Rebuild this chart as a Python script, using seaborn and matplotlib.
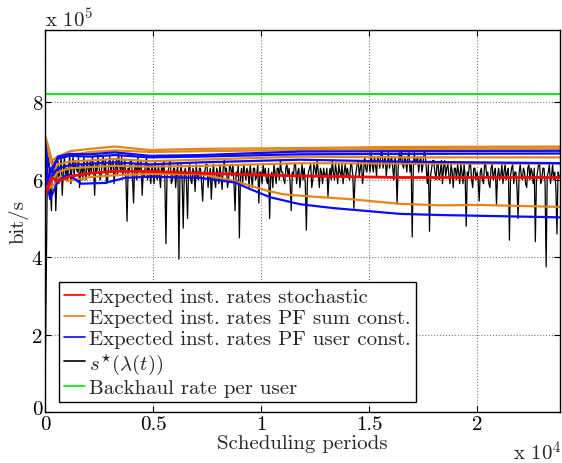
import matplotlib
matplotlib.use('Agg')
import matplotlib.pyplot as plt
from matplotlib.lines import Line2D
from matplotlib.transforms import ScaledTranslation
import seaborn as sns
import numpy as np

# ---- data (x in scheduling periods, rates in units of 1e5 bit/s) ----
t_knots = [0, 140, 320, 600, 1160, 2080, 3240, 4860, 7180, 11800, 16440, 23840]

orange_top_e5 = [7.15, 6.9, 6.5, 6.6, 6.74, 6.8, 6.86, 6.77, 6.8, 6.82, 6.85, 6.86]
orange_2nd_e5 = [7.05, 6.7, 6.4, 6.55, 6.64, 6.72, 6.76, 6.72, 6.74, 6.77, 6.8, 6.81]
orange_mid_e5 = [6.8, 5.9, 6.2, 6.4, 6.47, 6.5, 6.54, 6.48, 6.52, 6.6, 6.58, 6.58]
orange_low_e5 = [6.6, 5.7, 6.0, 6.2, 6.3, 6.33, 6.36, 6.34, 6.36, 6.43, 6.42, 6.42]
blue_top_e5 = [7.0, 6.4, 6.2, 6.6, 6.67, 6.66, 6.71, 6.62, 6.64, 6.73, 6.74, 6.75]
blue_2nd_e5 = [6.9, 6.0, 6.3, 6.55, 6.62, 6.6, 6.64, 6.58, 6.6, 6.66, 6.67, 6.68]
blue_mid_e5 = [6.7, 5.8, 6.1, 6.3, 6.38, 6.42, 6.45, 6.4, 6.45, 6.52, 6.47, 6.43]
red_e5 = [5.6, 5.8, 6.05, 5.96, 6.09, 6.17, 6.22, 6.22, 6.17, 6.1, 6.06, 6.06]

orange_dec_t = [0, 140, 240, 500, 720, 1030, 1390, 2080, 3240, 4860, 7180, 8700,
                9500, 10270, 11000, 11800, 14120, 16440, 18300, 20140, 23840]
orange_dec_e5 = [7.0, 6.2, 5.8, 5.9, 6.1, 5.97, 6.0, 6.07, 6.12, 6.15, 6.15, 5.98,
                 5.85, 5.72, 5.63, 5.59, 5.5, 5.38, 5.34, 5.35, 5.3]
blue_dec_t = [0, 140, 240, 600, 1060, 1670, 2780, 3700, 4860, 7180, 8800, 9500,
              10420, 11800, 13330, 16440, 18300, 23840]
blue_dec_e5 = [6.9, 5.8, 5.5, 5.97, 6.15, 5.9, 5.92, 6.05, 6.08, 6.05, 5.93, 5.76,
               5.55, 5.37, 5.27, 5.12, 5.09, 5.03]

backhaul_e5 = 8.22

# s*(lambda(t)), one sample every 50 periods (20 per row = 1000 periods)
s_star_e5 = [
    0.1, 3.0, 5.6, 6.6, 6.4, 5.8, 5.2, 6.5, 6.1, 6.4, 5.2, 6.0, 6.5, 5.9, 6.3, 6.6, 5.6, 6.2, 6.6, 6.1,
    6.3, 6.0, 6.4, 6.6, 5.9, 6.3, 6.6, 6.1, 6.5, 6.3, 6.2, 6.6, 5.8, 6.2, 6.4, 6.0, 6.6, 6.2, 6.0, 6.5,
    6.3, 6.1, 6.5, 6.2, 6.6, 6.3, 5.6, 6.4, 6.2, 6.6, 6.4, 6.0, 6.1, 6.5, 6.6, 6.2, 6.5, 5.9, 6.0, 6.4,
    6.6, 6.2, 6.4, 6.5, 5.9, 6.3, 6.5, 6.1, 6.7, 6.4, 6.2, 6.6, 6.1, 6.3, 6.5, 6.0, 4.93, 6.3, 6.2, 6.5,
    6.5, 6.1, 5.4, 6.3, 6.4, 6.0, 6.6, 6.2, 6.3, 6.5, 5.6, 6.2, 6.1, 6.4, 6.6, 6.0, 6.4, 6.2, 5.9, 6.4,
    6.2, 5.9, 6.5, 6.1, 6.0, 6.4, 6.1, 5.8, 6.4, 6.2, 6.5, 6.0, 4.35, 6.1, 6.2, 6.4, 6.5, 5.9, 6.0, 6.3,
    6.3, 5.8, 6.2, 6.4, 3.95, 6.1, 6.4, 6.0, 4.75, 6.2, 6.3, 5.9, 5.0, 6.3, 6.4, 6.0, 5.9, 6.3, 6.2, 5.7,
    6.4, 6.1, 6.0, 6.3, 6.3, 5.9, 5.45, 6.2, 6.2, 6.4, 6.4, 5.8, 6.1, 6.3, 5.5, 6.1, 6.4, 6.0, 5.8, 6.3,
    6.2, 5.9, 6.4, 6.1, 5.75, 6.3, 6.5, 6.2, 6.3, 5.8, 6.0, 6.4, 6.3, 6.1, 6.4, 5.9, 5.2, 6.2, 6.1, 6.4,
    4.5, 6.1, 6.3, 5.9, 6.4, 6.2, 6.0, 6.3, 6.2, 5.8, 6.4, 6.1, 5.8, 6.3, 6.3, 6.0, 6.1, 6.4, 5.4, 6.2,
    6.2, 5.9, 6.4, 6.1, 6.3, 6.0, 5.9, 6.3, 5.0, 6.1, 6.2, 5.8, 6.4, 6.2, 5.9, 6.3, 6.3, 6.0, 6.5, 6.2,
    6.2, 6.0, 5.9, 6.3, 6.4, 6.1, 6.3, 5.9, 5.2, 6.2, 6.1, 6.4, 6.4, 5.9, 6.2, 6.3, 5.8, 6.1, 6.4, 6.0,
    6.3, 5.9, 4.7, 6.0, 6.2, 6.3, 6.4, 5.8, 6.0, 6.4, 6.3, 6.1, 6.5, 6.2, 5.8, 6.3, 6.2, 5.9, 6.3, 6.1,
    6.1, 6.3, 5.57, 6.1, 6.3, 6.0, 6.5, 6.2, 6.0, 6.4, 6.2, 5.9, 6.4, 6.2, 6.1, 6.4, 5.9, 6.2, 6.4, 6.1,
    6.3, 6.1, 6.0, 6.4, 6.4, 6.1, 5.26, 6.0, 6.2, 6.4, 6.5, 6.1, 6.3, 6.5, 5.9, 6.2, 6.6, 6.3, 6.2, 6.5,
    6.5, 6.2, 6.7, 6.4, 6.2, 6.6, 6.4, 6.1, 6.6, 6.5, 6.3, 6.7, 6.8, 6.3, 6.5, 6.6, 6.1, 6.4, 6.7, 6.3,
    6.5, 6.6, 6.3, 6.0, 6.6, 6.4, 5.37, 6.3, 6.7, 6.5, 6.8, 6.4, 6.3, 6.6, 6.5, 6.2, 6.6, 6.7, 6.2, 6.4,
    4.52, 6.3, 6.7, 6.4, 6.5, 6.6, 6.2, 6.5, 6.6, 6.2, 6.4, 6.7, 6.7, 6.3, 5.9, 6.4, 4.67, 6.1, 6.3, 6.5,
    6.5, 6.2, 6.0, 6.4, 6.4, 6.0, 6.2, 6.5, 5.9, 6.3, 6.5, 6.1, 6.3, 6.4, 6.1, 5.9, 6.4, 6.2, 5.8, 6.3,
    6.3, 6.0, 6.4, 6.2, 5.9, 6.4, 6.2, 5.9, 6.4, 6.1, 4.8, 6.2, 6.1, 6.4, 6.4, 6.0, 5.8, 6.3, 6.3, 6.0,
    6.2, 6.0, 5.45, 6.2, 6.3, 6.0, 5.9, 6.4, 6.4, 6.1, 6.2, 5.9, 5.8, 6.3, 6.4, 6.0, 6.2, 6.3, 5.35, 6.1,
    6.3, 6.0, 6.1, 6.4, 5.9, 6.2, 6.4, 6.0, 6.2, 6.3, 4.44, 6.1, 6.3, 6.4, 5.9, 6.2, 6.2, 5.8, 5.0, 6.2,
    6.4, 6.1, 6.0, 6.3, 6.2, 5.9, 5.8, 6.3, 6.4, 6.0, 6.3, 6.2, 5.9, 6.3, 4.4, 6.0, 6.2, 6.4, 6.4, 5.9,
    6.0, 6.3, 6.3, 5.9, 3.75, 6.1, 6.2, 6.4, 5.9, 6.1, 6.4, 6.0, 6.2, 5.8, 4.6, 6.2, 6.1,
]
s_star_t = np.arange(len(s_star_e5)) * 50

x_ticks = [0, 5000, 10000, 15000, 20000]
x_ticklabels = ['0', '0.5', '1', '1.5', '2']
y_ticks_e5 = [0, 2, 4, 6, 8]

RED = '#ff0000'
ORANGE = '#e0861a'
BLUE = '#0a0aff'
GREEN = '#00e600'
FS = 15

sns.set_style("white")
plt.rcParams['font.family'] = 'cmr10'
plt.rcParams['mathtext.fontset'] = 'cm'
plt.rcParams['axes.unicode_minus'] = False

fig = plt.figure(figsize=(5.62, 4.64), dpi=100)
ax = fig.add_axes([0.080, 0.110, 0.9164, 0.823])

e5 = 1e5
sns.lineplot(x=s_star_t, y=np.array(s_star_e5) * e5, ax=ax, color='black',
             linewidth=0.9, estimator=None, sort=False)

for vals in [orange_top_e5, orange_2nd_e5, orange_mid_e5, orange_low_e5]:
    sns.lineplot(x=t_knots, y=np.array(vals) * e5, ax=ax, color=ORANGE,
                 linewidth=1.6, estimator=None, sort=False)
sns.lineplot(x=orange_dec_t, y=np.array(orange_dec_e5) * e5, ax=ax, color=ORANGE,
             linewidth=1.6, estimator=None, sort=False)
for vals in [blue_top_e5, blue_2nd_e5, blue_mid_e5]:
    sns.lineplot(x=t_knots, y=np.array(vals) * e5, ax=ax, color=BLUE,
                 linewidth=1.6, estimator=None, sort=False)
sns.lineplot(x=blue_dec_t, y=np.array(blue_dec_e5) * e5, ax=ax, color=BLUE,
             linewidth=1.6, estimator=None, sort=False)
sns.lineplot(x=t_knots, y=np.array(red_e5) * e5, ax=ax, color=RED,
             linewidth=2.0, estimator=None, sort=False)
ax.axhline(backhaul_e5 * e5, color=GREEN, linewidth=1.3)

ax.set_xlim(0, 23840)
ax.set_ylim(0, 9.87e5)
ax.set_xticks(x_ticks)
ax.set_xticklabels(x_ticklabels)
ax.set_yticks([v * e5 for v in y_ticks_e5])
ax.set_yticklabels([str(v) for v in y_ticks_e5])
ax.tick_params(axis='both', direction='in', length=4, width=0.8, labelsize=FS,
               bottom=True, left=True, top=True, right=True, colors='black', pad=2)
ax.grid(True, linestyle=':', color='#7a7a7a', linewidth=0.8)
ax.set_axisbelow(True)
for sp in ax.spines.values():
    sp.set_color('black')
    sp.set_linewidth(1.0)

# nudge the y "0" up a little so it clears the x "0"
ylab0 = ax.get_yticklabels()[0]
ylab0.set_transform(ylab0.get_transform() + ScaledTranslation(0, 5 / 100, fig.dpi_scale_trans))

ax.set_xlabel('Scheduling periods', fontsize=FS, labelpad=1)
ax.set_ylabel('bit/s', fontsize=FS, labelpad=2)

fig.text(45 / 562, 1 - 27 / 464, r'x 10$^{5}$', fontsize=FS, va='baseline', ha='left')
fig.text(513 / 562, 1 - 461 / 464, r'x 10$^{4}$', fontsize=FS, va='baseline', ha='left')

handles = [Line2D([], [], color=RED, lw=1.2),
           Line2D([], [], color=ORANGE, lw=1.2),
           Line2D([], [], color=BLUE, lw=1.2),
           Line2D([], [], color='black', lw=1.2),
           Line2D([], [], color=GREEN, lw=1.2)]
labels = ['Expected inst. rates stochastic',
          'Expected inst. rates PF sum const.',
          'Expected inst. rates PF user const.',
          r'$s^{\star}(\lambda(t))$',
          'Backhaul rate per user']
leg = ax.legend(handles, labels, loc='lower left', bbox_to_anchor=(0.027, 0.026),
                borderaxespad=0, fontsize=FS, frameon=True, fancybox=False,
                framealpha=1, edgecolor='black', handlelength=1.0,
                handletextpad=0.2, labelspacing=0.12, borderpad=0.25)
leg.get_frame().set_linewidth(1.0)

fig.savefig('out.png', dpi=100)
